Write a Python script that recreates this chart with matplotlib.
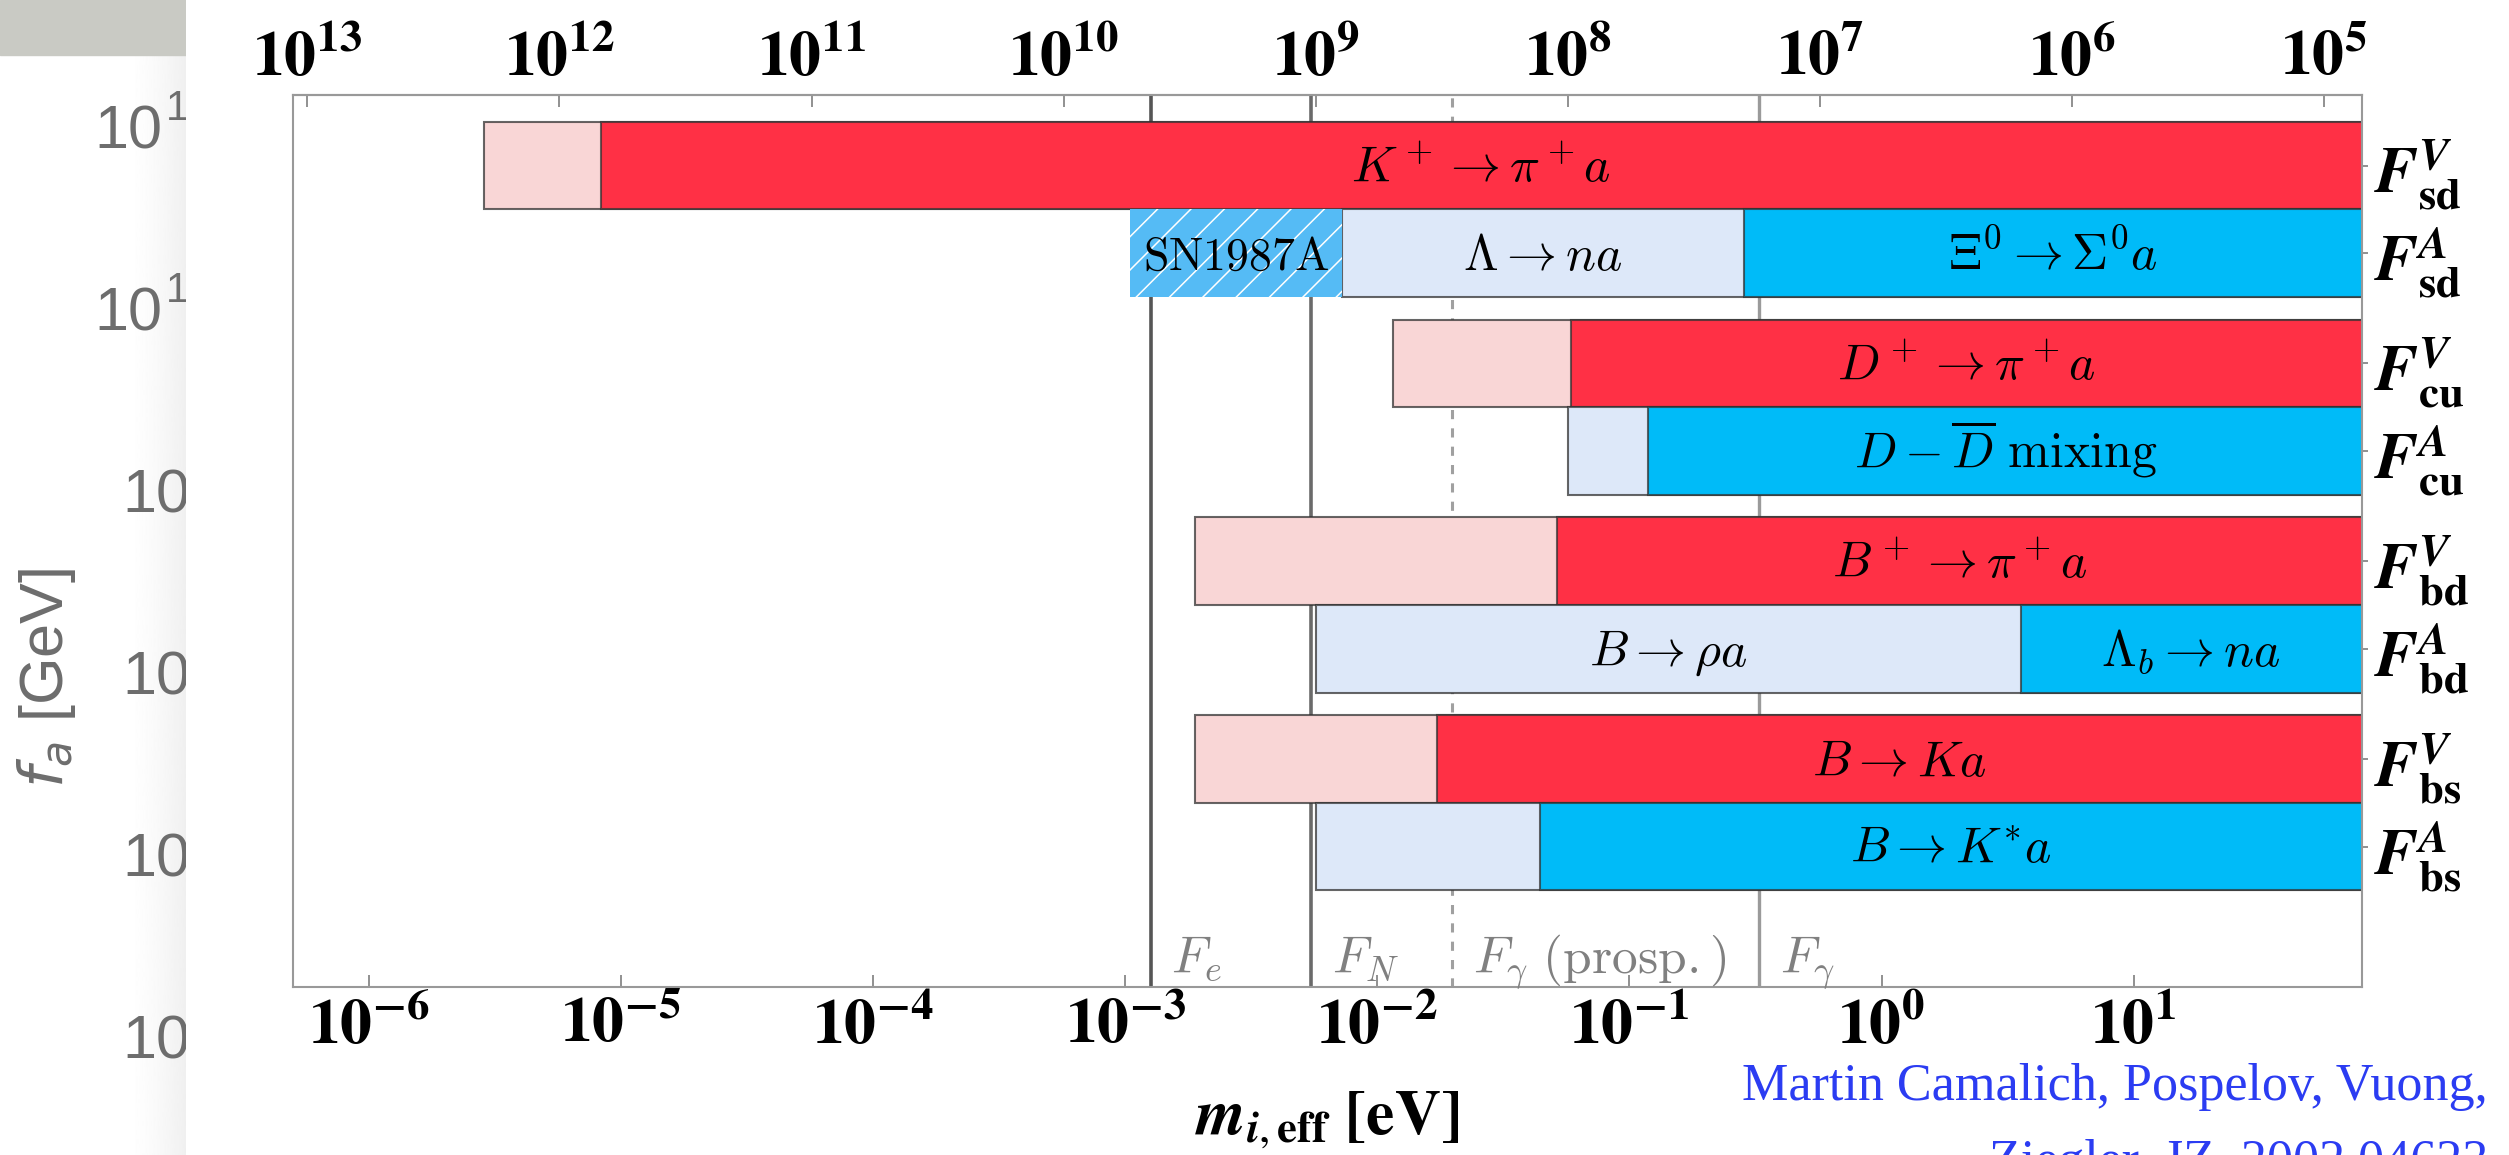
import matplotlib
matplotlib.use('Agg')
import matplotlib.pyplot as plt
import numpy as np
from matplotlib.patches import Rectangle
from matplotlib.ticker import FixedLocator, FuncFormatter, NullLocator

plt.rcParams['mathtext.fontset'] = 'stix'
plt.rcParams['font.family'] = 'Liberation Serif'
plt.rcParams['hatch.linewidth'] = 1.1

W, H = 2509, 1155

# couplings, top to bottom
couplings = [r'$\mathbfit{F}^{\mathbfit{V}}_{\mathbf{sd}}$', r'$\mathbfit{F}^{\mathbfit{A}}_{\mathbf{sd}}$',
             r'$\mathbfit{F}^{\mathbfit{V}}_{\mathbf{cu}}$', r'$\mathbfit{F}^{\mathbfit{A}}_{\mathbf{cu}}$',
             r'$\mathbfit{F}^{\mathbfit{V}}_{\mathbf{bd}}$', r'$\mathbfit{F}^{\mathbfit{A}}_{\mathbf{bd}}$',
             r'$\mathbfit{F}^{\mathbfit{V}}_{\mathbf{bs}}$', r'$\mathbfit{F}^{\mathbfit{A}}_{\mathbf{bs}}$']
is_vector = [True, False, True, False, True, False, True, False]
# m_eff [eV] where the weak (light) and strong (dark) reach starts
weak_start = [2.85e-6, 7.26e-3, 1.15e-2, 5.7e-2, 1.9e-3, 5.7e-3, 1.9e-3, 5.7e-3]
strong_start = [8.3e-6, 0.284, 0.0586, 0.119, 0.0515, 3.56, 0.0172, 0.044]
m_end = 100.0
strong_labels = [r'$K^+ \rightarrow \pi^+ a$', r'$\Xi^0 \rightarrow \Sigma^0 a$',
                 r'$D^+ \rightarrow \pi^+ a$', r'$D - \overline{D}\ \mathrm{mixing}$',
                 r'$B^+ \rightarrow \pi^+ a$', r'$\Lambda_b \rightarrow n a$',
                 r'$B \rightarrow K a$', r'$B \rightarrow K^{*} a$']
weak_labels = ['', r'$\Lambda \rightarrow n a$', '', '', '', r'$B \rightarrow \rho a$', '', '']
sn1987a = (1.045e-3, 7.26e-3)

# astro limits (vertical lines)
limit_m = [1.26e-3, 5.47e-3, 1.98e-2, 0.327]
limit_labels = [r'$F_e$', r'$F_N$', r'$F_\gamma\ \mathrm{(prosp.)}$', r'$F_\gamma$']

mass_ticks = 10.0 ** np.arange(-6, 2)
fa_ticks = 10.0 ** np.arange(13, 4, -1)
fa_times_m = 5.7e6  # f_a [GeV] * m_eff [eV]

# faded slide underneath
side_labels = ['10', '10', '10', '10', '10', '10']
side_exp = ['1', '1', '', '', '', '']

colors_v = ('#f9d6d6', '#ff3045')
colors_a = ('#dde8f9', '#00bbf8')
edge = (0.2, 0.2, 0.2, 0.75)

fig = plt.figure(figsize=(W / 100, H / 100), dpi=100)
ax = fig.add_axes([293 / W, 1 - 987 / H, (2362 - 293) / W, (987 - 95) / H])
ax.set_xscale('log')
ax.set_xlim(5e-7, 80.5)

bar_h = 1.0
ymax = (987 - 95) / 87.6
ax.set_ylim(ymax, 0)
row_y = np.array([0.805 + 2.258 * (i // 2) + (i % 2) for i in range(len(couplings))])

for y, vec, ws, ss, sl, wl in zip(row_y, is_vector, weak_start, strong_start, strong_labels, weak_labels):
    light, dark = colors_v if vec else colors_a
    ax.barh(y, m_end - ws, left=ws, height=bar_h, color=light, edgecolor=edge, lw=1.5, zorder=2)
    ax.barh(y, m_end - ss, left=ss, height=bar_h, color=dark, edgecolor=edge, lw=1.5, zorder=2)
    xc = np.sqrt(ss * ax.get_xlim()[1])
    ax.text(xc, y + 0.19, sl, ha='center', va='baseline', fontsize=36, math_fontfamily='cm', zorder=4)
    if wl:
        ax.text(np.sqrt(ws * ss), y + 0.19, wl, ha='center', va='baseline', fontsize=36,
                math_fontfamily='cm', zorder=4)

# SN1987A exclusion on the axial sd row
ax.barh(row_y[1], sn1987a[1] - sn1987a[0], left=sn1987a[0], height=bar_h, color='#55bbf5',
        edgecolor='white', hatch='/', lw=0, zorder=3)
ax.text(np.sqrt(sn1987a[0] * sn1987a[1]), row_y[1] + 0.19, r'$\mathrm{SN1987A}$', ha='center',
        va='baseline', fontsize=33, math_fontfamily='cm', zorder=4)

line_styles = [dict(color='#555555', lw=2.6, ls='-'), dict(color='#6a6a6a', lw=2.6, ls='-'),
               dict(color='#a0a0a0', lw=2.2, ls=(0, (3, 3))), dict(color='#9a9a9a', lw=2.4, ls='-')]
for m, lab, st in zip(limit_m, limit_labels, line_styles):
    ax.axvline(m, zorder=1, **st)
    ax.annotate(lab, xy=(m, 0), xycoords=('data', 'axes fraction'), xytext=(15, 10),
                textcoords='offset points', ha='left', va='baseline', color='#808080',
                fontsize=37, math_fontfamily='cm')

# frame and ticks
for s in ax.spines.values():
    s.set_color('#999999')
    s.set_linewidth(1.5)

def pow10(v, pos):
    return r'$\mathbf{10^{%d}}$' % int(round(np.log10(v)))

ax.xaxis.set_major_locator(FixedLocator(mass_ticks))
ax.xaxis.set_major_formatter(FuncFormatter(pow10))
ax.xaxis.set_minor_locator(NullLocator())
ax.tick_params(axis='x', which='major', direction='in', length=8.5, width=1.3, color='#888888',
               labelsize=46, pad=8, top=False)

sec = ax.secondary_xaxis('top', functions=(lambda m: fa_times_m / np.asarray(m),
                                            lambda f: fa_times_m / np.asarray(f)))
sec.xaxis.set_major_locator(FixedLocator(fa_ticks))
sec.xaxis.set_major_formatter(FuncFormatter(pow10))
sec.xaxis.set_minor_locator(NullLocator())
sec.tick_params(axis='x', which='major', direction='in', length=8.5, width=1.3, color='#888888',
                labelsize=46, pad=4)
sec.spines['top'].set_color('#999999')
sec.spines['top'].set_linewidth(1.5)

ax.yaxis.tick_right()
ax.set_yticks(row_y)
ax.set_yticklabels(couplings)
ax.tick_params(axis='y', direction='inout', length=9, width=1.3, color='#888888', labelsize=46,
               pad=4, left=False)

ax.set_xlabel(r'$\mathbfit{m}_{\mathbfit{i},\mathbf{eff}}\ \mathbf{[eV]}$', fontsize=46)
ax.xaxis.set_label_coords(0.5, -0.115)

fig.text(2488 / W, 1 - 1100 / H, 'Martin Camalich, Pospelov, Vuong,', ha='right', va='baseline',
         color='#2b3cf2', fontsize=37.5)
fig.text(2488 / W, 1 - 1176 / H, 'Ziegler, JZ, 2002.04623', ha='right', va='baseline',
         color='#2b3cf2', fontsize=37.5)

# faded slide behind the left edge
bg = fig.add_axes([0, 0, 186 / W, 1])
shade = np.linspace(0, 1, 100) ** 1.5
bg.imshow(1 - 0.06 * shade[None, :], cmap='gray', vmin=0, vmax=1, extent=(125, 186, H, 0),
          aspect='auto')
bg.set_xlim(0, 186)
bg.set_ylim(H, 0)
bg.axis('off')
bg.add_patch(Rectangle((0, 0), 186, 55, color='#c9cac4'))
for i, (lab, ex) in enumerate(zip(side_labels, side_exp)):
    y = 133 + 182 * i
    if ex:
        bg.text(162, y, lab, ha='right', va='center', fontsize=44, color='#6d6d6d',
                family='Liberation Sans', clip_on=True)
        bg.text(166, y - 24, ex, ha='left', va='center', fontsize=30, color='#6d6d6d',
                family='Liberation Sans', clip_on=True)
    else:
        bg.text(190, y, lab, ha='right', va='center', fontsize=44, color='#6d6d6d',
                family='Liberation Sans', clip_on=True)
bg.text(47, 678, r'$f_a$ [GeV]', rotation=90, ha='center', va='center', fontsize=44,
        color='#6d6d6d', family='Liberation Sans', math_fontfamily='dejavusans', clip_on=True)

fig.savefig('out.png', dpi=100)
